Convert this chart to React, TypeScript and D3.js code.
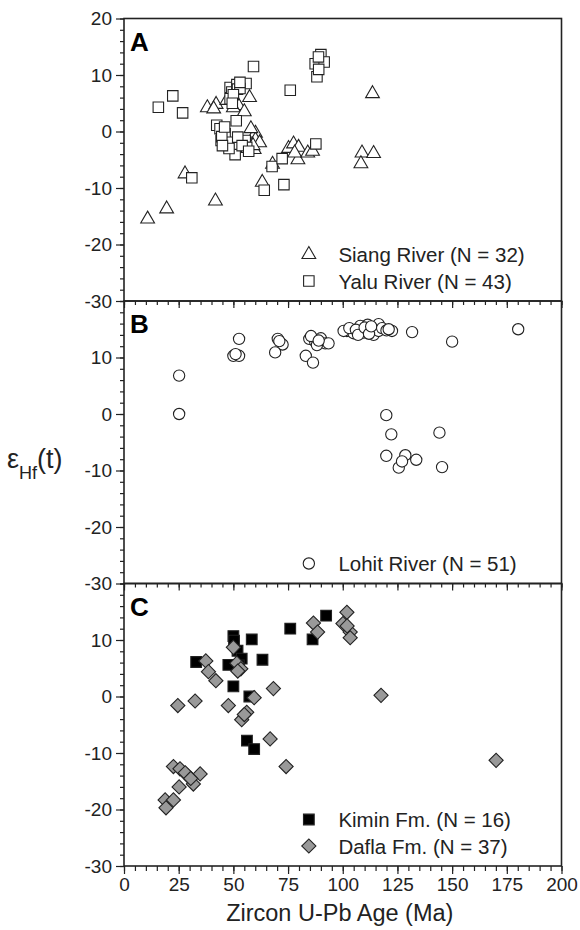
import * as d3 from "d3";
import { useEffect, useRef } from "react";

// age (Ma), epsilon Hf(t)
const siangRiver: [number, number][] = [
	[10.8, -15.5], [19.5, -13.7], [27.9, -7.5], [41.8, -12.3], [38.1, 4.2], [42.1, 4.8],
	[47, 5.5], [51.6, 4.9], [52.3, 4.6], [50, 4.2], [55, 3.5], [57.4, 6.0], [60.1, -0.3],
	[60.1, -1.5], [59.5, -3.2], [58, 0.5], [62, -2], [59, -2.5], [67.9, -5.8], [63.2, -9.0],
	[75.2, -3.0], [77.5, -2.2], [79.8, -2.8], [79.5, -5.0], [78, -3.8], [84, -3.8], [86.2, -3.5],
	[113.6, 6.7], [108.8, -3.8], [114.1, -3.9], [108.3, -5.7], [41, 4.0],
];
const yaluRiver: [number, number][] = [
	[15.7, 4.3], [22.3, 6.3], [26.8, 3.3], [31.0, -8.2], [59.2, 11.5], [48.5, 7.8], [49.3, 7.0],
	[51.6, 8.3], [55.8, 8.5], [48.5, 5.8], [51.9, 7.5], [53, 7.6], [50, 6.5], [49.5, 5], [53, 8.7],
	[51.3, 1.9], [42.4, 1.1], [46.2, -0.4], [44.4, -1.6], [47.7, -1.9], [50.8, -4.1], [55.4, -1.6],
	[56.1, -2.8], [43.9, 0.5], [44.7, -0.9], [46, 0.8], [52, -1.0], [54, -2.5], [48, -3], [57, -3.5],
	[45, -2.5], [76, 7.3], [67.7, -6.2], [72.3, -4.8], [64.1, -10.4], [73.1, -9.4], [87.7, -2.2],
	[88.2, 9.7], [87.4, 12.0], [90, 13.6], [91.5, 12.3], [88.9, 13.2], [89, 11],
];
const lohitRiver: [number, number][] = [
	[25.2, 6.8], [25.2, 0], [50, 10.3], [52.6, 10.3], [52.6, 13.3], [70.3, 13.3], [72.5, 12.3],
	[69.1, 10.9], [83.1, 10.3], [86.4, 9.1], [84.7, 13.3], [87.4, 12.8], [90, 13.4], [92, 12.5],
	[88.2, 12.2], [101.9, 14.7], [104.9, 14.3], [108, 15.6], [111.4, 15.8], [109.5, 14.4],
	[114.1, 14.0], [116.4, 15.9], [116.4, 14.7], [122.5, 14.7], [131.7, 14.5], [150, 12.8],
	[180.2, 15.0], [93.5, 12.5], [100.4, 14.7], [119.9, -0.2], [122.2, -3.6], [119.9, -7.4],
	[125.6, -9.5], [128.6, -7.3], [133.6, -8.1], [127.1, -8.4], [144.2, -3.3], [145.4, -9.4],
	[103, 15.2], [106, 14.9], [107, 14.0], [110, 15.3], [112, 14.2], [113, 15.5], [118, 15.2],
	[120, 14.8], [121, 15.0], [85.5, 13.8], [89, 13.0], [71, 12.9], [51, 10.6],
];
const kiminFm: [number, number][] = [
	[33, 6.1], [50, 10.7], [50.3, 9.9], [58.4, 10.1], [47.7, 5.6], [51.9, 8.1], [53.8, 6.7],
	[63.3, 6.5], [50, 1.8], [57.3, 0], [56.2, -7.8], [59.5, -9.3], [76, 12.0], [86.2, 10.1],
	[92.4, 14.3], [52.5, 5.5],
];
const daflaFm: [number, number][] = [
	[37.4, 6.3], [38.6, 4.4], [42, 2.8], [24.6, -1.6], [32.5, -0.8], [50, 8.7], [51.6, 5.9],
	[53.4, 4.9], [47.7, -1.6], [56.1, -2.8], [53.8, -4.1], [59.5, -0.2], [68.3, 1.4], [66.8, -7.5],
	[74.1, -12.4], [22.6, -12.4], [25.6, -12.8], [29, -14.0], [34.8, -13.7], [31.7, -15.5],
	[25.2, -16.0], [18.8, -18.3], [22.6, -18.3], [19.2, -19.7], [86.6, 13.0], [88.5, 11.4],
	[101.9, 14.9], [100.1, 12.9], [103.4, 11.4], [103.4, 10.4], [117.5, 0.2], [170.1, -11.3],
	[28, -13.5], [52, 4.5], [55, -3.2], [102, 12.5], [30.5, -14.5],
];

const panelLetters = ["A", "B", "C"];
const legendA = ["Siang River (N = 32)", "Yalu River (N = 43)"];
const legendB = ["Lohit River (N = 51)"];
const legendC = ["Kimin Fm. (N = 16)", "Dafla Fm. (N = 37)"];

const FONT = "'Liberation Sans', Arial, Helvetica, sans-serif";
const INK = "#222";

function App() {
	const ref = useRef<SVGSVGElement>(null);

	useEffect(() => {
		const svg = d3.select(ref.current);
		svg.selectAll("*").remove();
		const left = 124;
		const right = 561.5;
		const top = 18.5;
		const panelH = 282.5;
		const x = d3.scaleLinear().domain([0, 200]).range([left, right]);

		const sym = (type: d3.SymbolType, size: number) => d3.symbol().type(type).size(size)();
		const marks = {
			triangle: { d: sym(d3.symbolTriangle, 82), fill: "white", rot: 0 },
			square: { d: sym(d3.symbolSquare, 110), fill: "white", rot: 0 },
			circle: { d: sym(d3.symbolCircle, 100), fill: "white", rot: 0 },
			kimin: { d: sym(d3.symbolSquare, 115), fill: "#000", rot: 0 },
			dafla: { d: sym(d3.symbolSquare, 100), fill: "#999", rot: 45 },
		};

		const panels = [
			{ series: [{ data: siangRiver, m: marks.triangle }, { data: yaluRiver, m: marks.square }], legend: legendA },
			{ series: [{ data: lohitRiver, m: marks.circle }], legend: legendB },
			{ series: [{ data: kiminFm, m: marks.kimin }, { data: daflaFm, m: marks.dafla }], legend: legendC },
		];

		const styleAxis = (g: d3.Selection<SVGGElement, unknown, null, undefined>) => {
			g.select(".domain").remove();
			g.selectAll("line").attr("stroke", INK).attr("stroke-width", 1.2);
			g.selectAll("text").attr("font-family", FONT).attr("font-size", 19).attr("fill", INK);
		};

		panels.forEach((p, i) => {
			const y0 = top + i * panelH;
			const y = d3.scaleLinear().domain([-30, 20]).range([y0 + panelH, y0]);
			const g = svg.append("g");

			// left axis: minor + major ticks
			g.append("g")
				.attr("transform", `translate(${left},0)`)
				.call(d3.axisLeft(y).tickValues(d3.range(-30, 21, 2)).tickSize(4).tickFormat(() => ""))
				.call(styleAxis);
			g.append("g")
				.attr("transform", `translate(${left},0)`)
				.call(
					d3.axisLeft(y)
						.tickValues(i === 0 ? d3.range(-30, 21, 10) : d3.range(-30, 11, 10))
						.tickSize(8)
						.tickPadding(4)
						.tickFormat((d) => String(d))
				)
				.call(styleAxis);

			// top ticks pointing into panels B and C
			if (i > 0) {
				g.append("g")
					.attr("transform", `translate(0,${y0})`)
					.call(d3.axisBottom(x).tickValues(d3.range(0, 201, 5)).tickSize(4).tickFormat(() => ""))
					.call(styleAxis);
				g.append("g")
					.attr("transform", `translate(0,${y0})`)
					.call(d3.axisBottom(x).tickValues(d3.range(0, 201, 25)).tickSize(7).tickFormat(() => ""))
					.call(styleAxis);
			}
			if (i === 2) {
				const yb = y0 + panelH;
				g.append("g")
					.attr("transform", `translate(0,${yb})`)
					.call(d3.axisBottom(x).tickValues(d3.range(0, 201, 5)).tickSize(5).tickFormat(() => ""))
					.call(styleAxis);
				g.append("g")
					.attr("transform", `translate(0,${yb})`)
					.call(d3.axisBottom(x).tickValues(d3.range(0, 201, 25)).tickSize(8).tickPadding(4).tickFormat((d) => String(d)))
					.call(styleAxis);
			}

			g.append("rect")
				.attr("x", left)
				.attr("y", y0)
				.attr("width", right - left)
				.attr("height", panelH)
				.attr("fill", "none")
				.attr("stroke", INK)
				.attr("stroke-width", 1.6);

			g.append("text")
				.attr("x", left + 6)
				.attr("y", y0 + 32)
				.attr("font-family", FONT)
				.attr("font-weight", "bold")
				.attr("font-size", 26)
				.attr("fill", "#000")
				.text(panelLetters[i]);

			p.series.forEach((s) => {
				g.append("g")
					.selectAll("path")
					.data(s.data)
					.enter()
					.append("path")
					.attr("d", s.m.d)
					.attr("transform", (d) => `translate(${x(d[0])},${y(d[1])}) rotate(${s.m.rot})`)
					.attr("fill", s.m.fill)
					.attr("stroke", INK)
					.attr("stroke-width", 1.1);
			});

			// legend, anchored to the lower right of each panel
			const n = p.legend.length;
			p.legend.forEach((label, j) => {
				const ly = y0 + panelH - 20 - (n - 1 - j) * 26.5;
				const m = p.series[j].m;
				g.append("path")
					.attr("d", m.d)
					.attr("transform", `translate(${x(84.5)},${ly}) rotate(${m.rot})`)
					.attr("fill", m.fill)
					.attr("stroke", INK)
					.attr("stroke-width", 1.1);
				g.append("text")
					.attr("x", x(98))
					.attr("y", ly + 7.5)
					.attr("font-family", FONT)
					.attr("font-size", 20.5)
					.attr("fill", INK)
					.text(label);
			});
		});

		svg.append("text")
			.attr("x", (left + right) / 2 - 3)
			.attr("y", 921)
			.attr("text-anchor", "middle")
			.attr("font-family", FONT)
			.attr("font-size", 23.5)
			.attr("fill", INK)
			.text("Zircon U-Pb Age (Ma)");

		const eps = svg.append("text")
			.attr("x", 7)
			.attr("y", 468)
			.attr("font-family", FONT)
			.attr("font-size", 27)
			.attr("fill", INK);
		eps.append("tspan").text("ε");
		eps.append("tspan").attr("font-size", 18).attr("dy", 11).text("Hf");
		eps.append("tspan").attr("dy", -11).text("(t)");
	}, []);

	return (
		<svg
			ref={ref}
			width={580}
			height={930}
			style={{ position: "absolute", left: 0, top: 0, background: "white" }}
		/>
	);
}

export default App;
